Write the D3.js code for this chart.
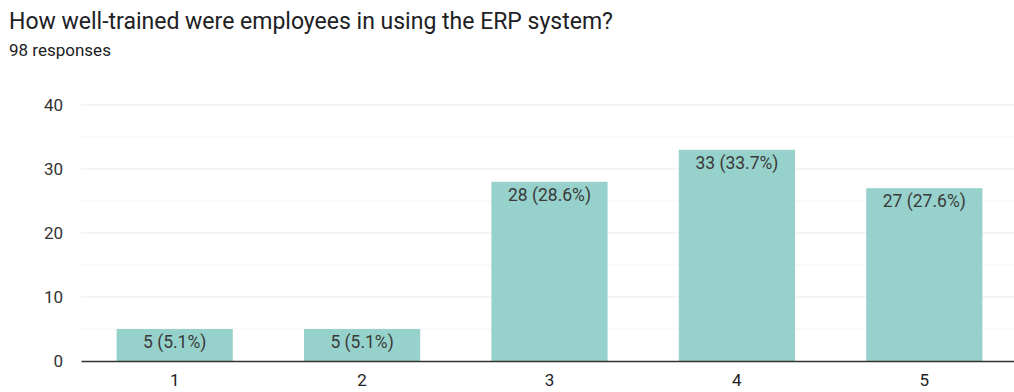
<!DOCTYPE html>
<html>
<head>
<meta charset="utf-8">
<script src="https://cdn.jsdelivr.net/npm/d3@7"></script>
<style>
  html, body { margin: 0; padding: 0; background: #fff; }
  svg { display: block; font-family: Roboto, Arial, sans-serif; }
</style>
</head>
<body>
<svg id="chart" width="1014" height="392"></svg>
<script>
// Survey answers: rating category and number of respondents
const categories = ["1", "2", "3", "4", "5"];
const counts = [5, 5, 28, 33, 27];
const percents = ["5.1%", "5.1%", "28.6%", "33.7%", "27.6%"];
const yTicks = [0, 10, 20, 30, 40];
const totalResponses = 98;

const svg = d3.select("#chart");
const W = 1014, H = 392;
const margin = { top: 105, right: -4, bottom: 31, left: 81 };
const innerW = W - margin.left - margin.right;
const innerH = H - margin.top - margin.bottom;

svg.append("text")
  .attr("x", 9).attr("y", 29)
  .attr("font-size", 23).attr("fill", "#202124")
  .text("How well-trained were employees in using the ERP system?");
svg.append("text")
  .attr("x", 9).attr("y", 56)
  .attr("font-size", 17).attr("fill", "#202124")
  .text(`${totalResponses} responses`);

const g = svg.append("g").attr("transform", `translate(${margin.left},${margin.top})`);

const x = d3.scaleBand().domain(categories).range([0, innerW]).paddingInner(0.38).paddingOuter(0.19);
const y = d3.scaleLinear().domain([0, 40]).range([innerH, 0]);

// minor gridlines every 5, major every 10
g.append("g").selectAll("line")
  .data(d3.range(5, 40, 10))
  .join("line")
  .attr("x1", 0).attr("x2", innerW)
  .attr("y1", d => y(d)).attr("y2", d => y(d))
  .attr("stroke", "#f4f4f4").attr("stroke-width", 1);
g.append("g").selectAll("line")
  .data(yTicks.filter(d => d > 0))
  .join("line")
  .attr("x1", 0).attr("x2", innerW)
  .attr("y1", d => y(d)).attr("y2", d => y(d))
  .attr("stroke", "#ebebeb").attr("stroke-width", 1);

// y tick labels
const yAxis = g.append("g").call(d3.axisLeft(y).tickValues(yTicks).tickSize(0).tickPadding(18));
yAxis.select(".domain").remove();
yAxis.selectAll("text").attr("font-size", 17).attr("fill", "#333").attr("font-family", "Roboto, Arial, sans-serif");

// bars
g.append("g").selectAll("rect")
  .data(categories)
  .join("rect")
  .attr("x", d => x(d))
  .attr("width", x.bandwidth())
  .attr("y", (d, i) => y(counts[i]))
  .attr("height", (d, i) => innerH - y(counts[i]))
  .attr("fill", "#97d1cb");

// value labels inside the bar tops
g.append("g").selectAll("text")
  .data(categories)
  .join("text")
  .attr("x", d => x(d) + x.bandwidth() / 2)
  .attr("y", (d, i) => y(counts[i]) + 19)
  .attr("text-anchor", "middle")
  .attr("font-size", 17.5).attr("fill", "#3a3a3a")
  .text((d, i) => `${counts[i]} (${percents[i]})`);

// baseline + category labels
const xAxis = g.append("g").attr("transform", `translate(0,${innerH})`)
  .call(d3.axisBottom(x).tickSize(0).tickPadding(13));
xAxis.select(".domain").attr("stroke", "#333").attr("stroke-width", 1.5);
xAxis.selectAll("text").attr("font-size", 17).attr("fill", "#222").attr("font-family", "Roboto, Arial, sans-serif");
</script>
</body>
</html>
